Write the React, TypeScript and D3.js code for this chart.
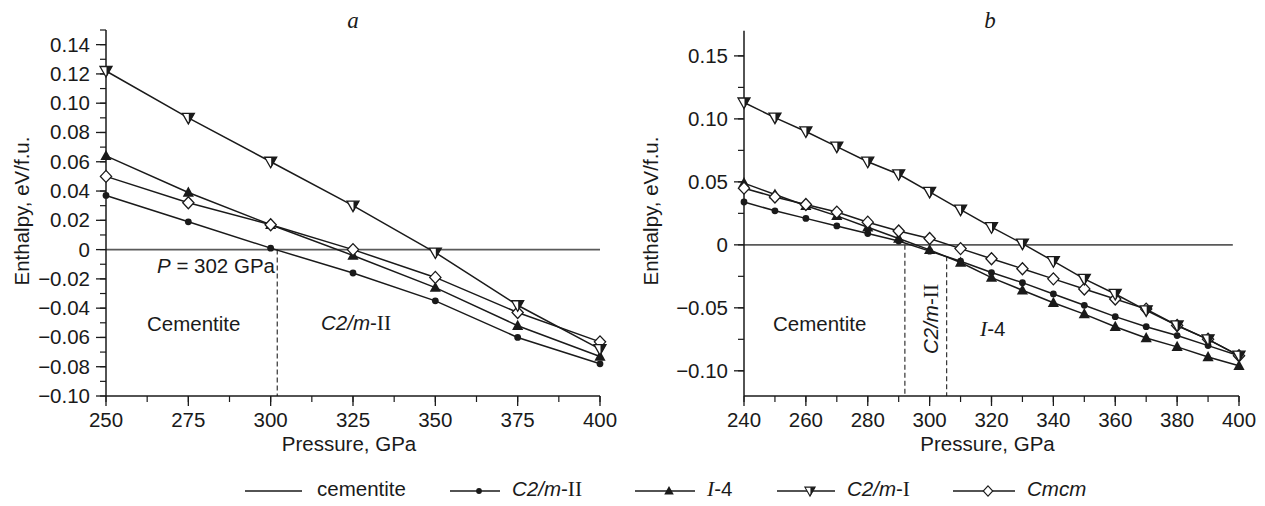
import React from "react";
import * as d3 from "d3";

// ---------- DATA ----------
const A_P = [250, 275, 300, 325, 350, 375, 400];
const A_CEM = [0, 0, 0, 0, 0, 0, 0];
const A_C2MII = [0.037, 0.019, 0.001, -0.016, -0.035, -0.06, -0.078];
const A_I4 = [0.064, 0.039, 0.017, -0.004, -0.026, -0.052, -0.073];
const A_C2MI = [0.122, 0.09, 0.06, 0.03, -0.002, -0.038, -0.068];
const A_CMCM = [0.05, 0.032, 0.017, 0.0, -0.019, -0.043, -0.063];

const B_P = [240, 250, 260, 270, 280, 290, 300, 310, 320, 330, 340, 350, 360, 370, 380, 390, 400];
const B_CEM = [0, 0, 0, 0, 0, 0, 0, 0, 0, 0, 0, 0, 0, 0, 0, 0, 0];
const B_C2MII = [0.034, 0.027, 0.021, 0.015, 0.009, 0.003, -0.005, -0.013, -0.022, -0.03, -0.039, -0.048, -0.057, -0.065, -0.072, -0.08, -0.088];
const B_I4 = [0.049, 0.04, 0.031, 0.023, 0.014, 0.005, -0.004, -0.014, -0.026, -0.036, -0.046, -0.055, -0.065, -0.074, -0.081, -0.089, -0.096];
const B_C2MI = [0.113, 0.101, 0.09, 0.078, 0.066, 0.056, 0.042, 0.028, 0.014, 0.001, -0.013, -0.027, -0.039, -0.052, -0.064, -0.075, -0.088];
const B_CMCM = [0.045, 0.038, 0.032, 0.026, 0.018, 0.011, 0.005, -0.003, -0.011, -0.019, -0.027, -0.035, -0.043, -0.051, -0.064, -0.075, -0.088];

const A_TRANS_P = [302];
const A_TRANS_E = [0];
const B_TRANS_P = [292, 305.5];
const B_TRANS_E = [0, -0.009];

const A_XTICKS = [250, 275, 300, 325, 350, 375, 400];
const A_YTICKS = [-0.1, -0.08, -0.06, -0.04, -0.02, 0, 0.02, 0.04, 0.06, 0.08, 0.1, 0.12, 0.14];
const A_YLABELS = ["\u22120.10", "\u22120.08", "\u22120.06", "\u22120.04", "\u22120.02", "0", "0.02", "0.04", "0.06", "0.08", "0.10", "0.12", "0.14"];
const B_XTICKS = [240, 260, 280, 300, 320, 340, 360, 380, 400];
const B_YTICKS = [-0.1, -0.05, 0, 0.05, 0.1, 0.15];
const B_YLABELS = ["\u22120.10", "\u22120.05", "0", "0.05", "0.10", "0.15"];

const SANS = "'Liberation Sans', Arial, sans-serif";
const SERIF = "'Liberation Serif', 'Times New Roman', serif";
const FS = 20.5;
const INK = "#1a1a1a";

type MarkerType = "none" | "dot" | "up" | "down" | "diamond";

function Marker({ type, x, y, s = 1 }: { type: MarkerType; x: number; y: number; s?: number }) {
  const t = `translate(${x},${y}) scale(${s})`;
  if (type === "dot") return <circle cx={x} cy={y} r={3.4 * s} fill={INK} />;
  if (type === "up") return <path transform={t} d="M0,-6 L5.6,4.2 L-5.6,4.2 Z" fill={INK} />;
  if (type === "down")
    return (
      <g transform={t}>
        <path d="M-6,-4.5 L6,-4.5 L0,6 Z" fill="#fff" stroke={INK} strokeWidth={1.3} strokeLinejoin="miter" />
        <path d="M0.5,-4.5 L6,-4.5 L0.5,6 Z" fill={INK} />
      </g>
    );
  if (type === "diamond")
    return <path transform={t} d="M0,-6 L5.6,0 L0,6 L-5.6,0 Z" fill="#fff" stroke={INK} strokeWidth={1.3} />;
  return null;
}

type Series = { vals: number[]; marker: MarkerType };

function Panel(props: {
  P: number[];
  series: Series[];
  xDomain: [number, number];
  xRange: [number, number];
  yDomain: [number, number];
  yRange: [number, number];
  xTicks: number[];
  xMinorStep: number;
  yTicks: number[];
  yLabels: string[];
  yMinorStep: number;
  transP: number[];
  transE: number[];
  zeroEnd: number;
  yLabelX: number;
  title: string;
  titleX: number;
  children?: React.ReactNode;
}) {
  const x = d3.scaleLinear().domain(props.xDomain).range(props.xRange);
  const y = d3.scaleLinear().domain(props.yDomain).range(props.yRange);
  const x0 = props.xRange[0];
  const yb = props.yRange[0];
  const yt = props.yRange[1];
  const minorX = d3.range(props.xDomain[0], props.xDomain[1] + 1e-9, props.xMinorStep);
  const st = props.yMinorStep;
  const iStart = Math.ceil(props.yDomain[0] / st - 1e-6);
  const iEnd = Math.floor(props.yDomain[1] / st + 1e-6);
  const minorY = d3.range(iStart, iEnd + 1).map((i) => i * st);
  const line = d3
    .line<number>()
    .x((_, i) => x(props.P[i]))
    .y((v) => y(v));
  return (
    <g>
      {/* zero line = cementite reference */}
      <line x1={x0} x2={x(props.zeroEnd)} y1={y(0)} y2={y(0)} stroke="#5a5a5a" strokeWidth={1.6} />
      {/* transitions */}
      {props.transP.map((p, i) => (
        <line key={"t" + i} x1={x(p)} x2={x(p)} y1={y(props.transE[i])} y2={yb} stroke="#333" strokeWidth={1.2} strokeDasharray="5,3" />
      ))}
      {/* axes */}
      <line x1={x0} x2={x0} y1={yt} y2={yb} stroke={INK} strokeWidth={1.5} />
      <line x1={x0} x2={props.xRange[1]} y1={yb} y2={yb} stroke={INK} strokeWidth={1.5} />
      {minorX.map((v, i) => (
        <line key={"mx" + i} x1={x(v)} x2={x(v)} y1={yb} y2={yb + 6} stroke={INK} strokeWidth={1.2} />
      ))}
      {props.xTicks.map((v, i) => (
        <g key={"xt" + i}>
          <line x1={x(v)} x2={x(v)} y1={yb} y2={yb + 10} stroke={INK} strokeWidth={1.3} />
          <text x={x(v)} y={yb + 31} textAnchor="middle" fontFamily={SANS} fontSize={FS} fill={INK}>
            {v}
          </text>
        </g>
      ))}
      {minorY.map((v, i) => (
        <line key={"my" + i} x1={x0 - 6} x2={x0} y1={y(v)} y2={y(v)} stroke={INK} strokeWidth={1.2} />
      ))}
      {props.yTicks.map((v, i) => (
        <g key={"yt" + i}>
          <line x1={x0 - 10} x2={x0} y1={y(v)} y2={y(v)} stroke={INK} strokeWidth={1.3} />
          <text x={x0 - 16} y={y(v) + 7} textAnchor="end" fontFamily={SANS} fontSize={FS} fill={INK}>
            {props.yLabels[i]}
          </text>
        </g>
      ))}
      <text
        transform={`translate(${props.yLabelX},211) rotate(-90)`}
        textAnchor="middle"
        fontFamily={SANS}
        fontSize={FS}
        fill={INK}
      >
        Enthalpy, eV/f.u.
      </text>
      <text x={(props.xRange[0] + props.xRange[1]) / 2 - 4} y={451} textAnchor="middle" fontFamily={SANS} fontSize={FS} fill={INK}>
        Pressure, GPa
      </text>
      <text x={props.titleX} y={28} textAnchor="middle" fontFamily={SERIF} fontStyle="italic" fontSize={23} fill={INK}>
        {props.title}
      </text>
      {props.series.map((s, si) =>
        s.marker === "none" ? null : (
          <path key={"l" + si} d={line(s.vals) || ""} fill="none" stroke={INK} strokeWidth={1.5} />
        )
      )}
      {props.series.map((s, si) =>
        s.vals.map((v, i) => <Marker key={"m" + si + "_" + i} type={s.marker} x={x(props.P[i])} y={y(v)} />)
      )}
      {props.children}
    </g>
  );
}

function PhaseLabel({ x, y, base = "C2/m", suffix = "II", rotate = false }: { x: number; y: number; base?: string; suffix?: string; rotate?: boolean }) {
  return (
    <text
      transform={rotate ? `translate(${x},${y}) rotate(-90)` : `translate(${x},${y})`}
      textAnchor={rotate ? "middle" : "start"}
      fontFamily={SANS}
      fontSize={FS}
      fill={INK}
    >
      <tspan fontStyle="italic">{base}</tspan>
      <tspan>-</tspan>
      <tspan fontFamily={SERIF} fontSize={FS + 1}>{suffix}</tspan>
    </text>
  );
}

function I4Label({ x, y }: { x: number; y: number }) {
  return (
    <text x={x} y={y} fontFamily={SANS} fontSize={FS} fill={INK}>
      <tspan fontFamily={SERIF} fontStyle="italic" fontSize={FS + 1}>I</tspan>
      <tspan>-4</tspan>
    </text>
  );
}

const LEGEND_NAMES = ["cementite", "C2/m-II", "I-4", "C2/m-I", "Cmcm"];
const LEGEND_MARKERS: MarkerType[] = ["none", "dot", "up", "down", "diamond"];

export default function App() {
  const aSeries: Series[] = [
    { vals: A_CEM, marker: "none" },
    { vals: A_C2MII, marker: "dot" },
    { vals: A_I4, marker: "up" },
    { vals: A_CMCM, marker: "diamond" },
    { vals: A_C2MI, marker: "down" },
  ];
  const bSeries: Series[] = [
    { vals: B_CEM, marker: "none" },
    { vals: B_C2MII, marker: "dot" },
    { vals: B_I4, marker: "up" },
    { vals: B_CMCM, marker: "diamond" },
    { vals: B_C2MI, marker: "down" },
  ];
  const legendX = [245, 450, 635, 777, 953];
  const legendW = [57, 50, 60, 58, 62];
  const legendY = 491;
  return (
    <svg width={1265} height={506} style={{ position: "absolute", left: 0, top: 0, background: "#fff" }}>
      <rect width={1265} height={506} fill="#fff" />
      <Panel
        P={A_P}
        series={aSeries}
        xDomain={[250, 400]}
        xRange={[106, 600]}
        yDomain={[-0.1, 0.15]}
        yRange={[396, 30]}
        xTicks={A_XTICKS}
        xMinorStep={12.5}
        yTicks={A_YTICKS}
        yLabels={A_YLABELS}
        yMinorStep={0.01}
        transP={A_TRANS_P}
        transE={A_TRANS_E}
        zeroEnd={400}
        yLabelX={29}
        title="a"
        titleX={353}
      >
        <text x={157} y={273} fontFamily={SANS} fontSize={FS} fill={INK}>
          <tspan fontStyle="italic">P</tspan> = 302 GPa
        </text>
        <text x={147} y={331} fontFamily={SANS} fontSize={FS} fill={INK}>Cementite</text>
        <PhaseLabel x={321} y={330} />
      </Panel>
      <Panel
        P={B_P}
        series={bSeries}
        xDomain={[240, 400]}
        xRange={[744, 1239]}
        yDomain={[-0.12, 0.17]}
        yRange={[396, 30.7]}
        xTicks={B_XTICKS}
        xMinorStep={10}
        yTicks={B_YTICKS}
        yLabels={B_YLABELS}
        yMinorStep={0.025}
        transP={B_TRANS_P}
        transE={B_TRANS_E}
        zeroEnd={398}
        yLabelX={658}
        title="b"
        titleX={990}
      >
        <text x={773} y={331} fontFamily={SANS} fontSize={FS} fill={INK}>Cementite</text>
        <PhaseLabel x={938} y={319} rotate />
        <I4Label x={980} y={336} />
      </Panel>
      {/* legend */}
      {LEGEND_NAMES.map((name, i) => {
        const lx = legendX[i];
        const w = legendW[i];
        const tx = lx + w + 12;
        let label: React.ReactNode;
        if (name === "cementite") label = <text x={tx + 3} y={496} fontFamily={SANS} fontSize={FS} fill={INK}>cementite</text>;
        else if (name === "C2/m-II") label = <PhaseLabel x={tx} y={496} />;
        else if (name === "C2/m-I") label = <PhaseLabel x={tx} y={496} suffix="I" />;
        else if (name === "I-4") label = <I4Label x={tx} y={496} />;
        else label = <text x={tx} y={496} fontFamily={SANS} fontStyle="italic" fontSize={FS} fill={INK}>Cmcm</text>;
        return (
          <g key={name}>
            <line x1={lx} x2={lx + w} y1={legendY} y2={legendY} stroke={INK} strokeWidth={1.5} />
            <Marker type={LEGEND_MARKERS[i]} x={lx + w / 2 + 4} y={legendY} s={0.85} />
            {label}
          </g>
        );
      })}
    </svg>
  );
}
